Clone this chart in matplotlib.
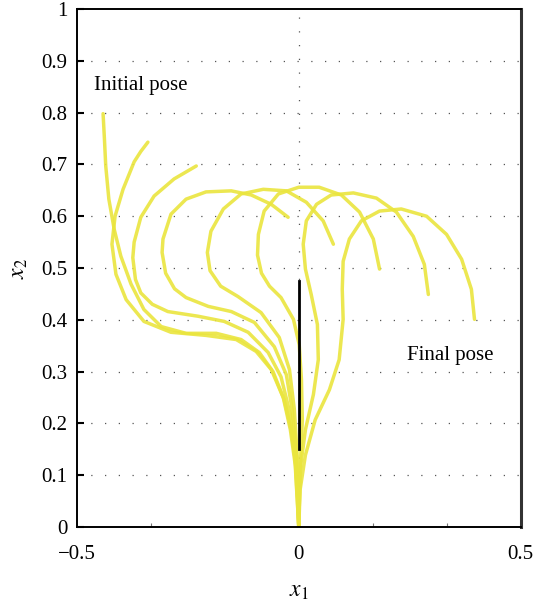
import numpy as np
import matplotlib
matplotlib.use('Agg')
from matplotlib import pyplot as plt

"""
    Poses do robo (do inicial ao final), da ponta ate a base
"""

pose1_x = [-0.441, -0.438, -0.435, -0.428, -0.416, -0.401, -0.378, -0.349, -0.310, -0.254, -0.186,
           -0.130, -0.089, -0.058, -0.033, -0.017, -0.008, -0.003, 0.0]
pose1_y = [0.798, 0.750, 0.697, 0.633, 0.575, 0.523, 0.469, 0.420, 0.387, 0.374, 0.374,
           0.362, 0.337, 0.300, 0.246, 0.188, 0.130, 0.072, 0.0]

pose2_x = [-0.340, -0.356, -0.371, -0.396, -0.414, -0.421, -0.412, -0.389, -0.349, -0.288, -0.209,
           -0.141, -0.096, -0.062, -0.035, -0.019, -0.008, 0.0]
pose2_y = [0.743, 0.725, 0.705, 0.652, 0.600, 0.546, 0.488, 0.439, 0.397, 0.376, 0.370,
           0.362, 0.339, 0.304, 0.250, 0.188, 0.120, 0.0]

pose3_x = [-0.231, -0.281, -0.326, -0.356, -0.371, -0.374, -0.368, -0.356, -0.330, -0.295, -0.227,
           -0.168, -0.114, -0.069, -0.040, -0.019, -0.008, 0.0]
pose3_y = [0.697, 0.672, 0.639, 0.598, 0.550, 0.520, 0.478, 0.452, 0.430, 0.416, 0.407,
           0.397, 0.376, 0.337, 0.290, 0.217, 0.130, 0.0]

pose4_x = [-0.024, -0.062, -0.107, -0.152, -0.209, -0.254, -0.288, -0.306, -0.308, -0.300, -0.280,
           -0.254, -0.204, -0.152, -0.100, -0.055, -0.028, -0.015, -0.006, 0.0]
pose4_y = [0.598, 0.623, 0.641, 0.649, 0.647, 0.633, 0.604, 0.556, 0.530, 0.490, 0.460,
           0.443, 0.426, 0.416, 0.395, 0.348, 0.294, 0.227, 0.149, 0.0]

pose5_x = [0.078, 0.055, 0.017, -0.028, -0.080, -0.130, -0.170, -0.198, -0.206, -0.200, -0.176,
           -0.137, -0.085, -0.044, -0.021, -0.010, -0.003, 0.0]
pose5_y = [0.546, 0.591, 0.627, 0.649, 0.652, 0.643, 0.614, 0.571, 0.530, 0.495, 0.465,
           0.445, 0.414, 0.366, 0.304, 0.227, 0.130, 0.0]

pose6_x = [0.182, 0.168, 0.137, 0.096, 0.046, 0.0, -0.046, -0.078, -0.091, -0.093, -0.084,
           -0.066, -0.040, -0.012, 0.001, 0.006, 0.008, 0.003, 0.0]
pose6_y = [0.498, 0.556, 0.608, 0.641, 0.656, 0.656, 0.643, 0.610, 0.565, 0.525, 0.490,
           0.465, 0.443, 0.401, 0.352, 0.285, 0.207, 0.110, 0.0]

pose7_x = [0.292, 0.283, 0.258, 0.220, 0.175, 0.123, 0.073, 0.040, 0.017, 0.010,
           0.015, 0.028, 0.042, 0.044, 0.033, 0.015, 0.003, 0.0]
pose7_y = [0.449, 0.507, 0.561, 0.608, 0.635, 0.645, 0.641, 0.623, 0.591, 0.546,
           0.498, 0.449, 0.391, 0.323, 0.256, 0.188, 0.110, 0.0]

pose8_x = [0.396, 0.389, 0.367, 0.333, 0.288, 0.231, 0.182, 0.141, 0.114, 0.100,
           0.098, 0.100, 0.091, 0.069, 0.037, 0.015, 0.003, 0.0]
pose8_y = [0.401, 0.459, 0.517, 0.565, 0.600, 0.614, 0.610, 0.591, 0.556, 0.513,
           0.459, 0.401, 0.323, 0.265, 0.207, 0.139, 0.072, 0.0]

# pose de referencia (segmento reto)
ref_x = [0.0, 0.0]
ref_y = [0.15, 0.475]

poses = [(pose1_x, pose1_y), (pose2_x, pose2_y), (pose3_x, pose3_y), (pose4_x, pose4_y),
         (pose5_x, pose5_y), (pose6_x, pose6_y), (pose7_x, pose7_y), (pose8_x, pose8_y)]


def main():
    plt.rcParams['font.family'] = ['Liberation Serif', 'DejaVu Serif']
    plt.rcParams['mathtext.fontset'] = 'stix'

    fig = plt.figure(figsize=(5.34, 6.01), dpi=100)
    ax = fig.add_axes([0.144, 0.123, 0.831, 0.862])

    for y in np.arange(0.1, 0.95, 0.1):
        ax.axhline(y, color='#555555', linestyle=(0, (1, 10)), linewidth=0.9, zorder=0)
    ax.axvline(0, color='#555555', linestyle=(0, (1, 10)), linewidth=0.9, zorder=0)

    for px, py in poses:
        ax.plot(px, py, color='#EAE53E', linewidth=2.5, alpha=0.9,
                solid_capstyle='round', solid_joinstyle='round')

    ax.plot(ref_x, ref_y, color='black', linewidth=2)

    ax.text(-0.462, 0.852, 'Initial pose', fontsize=15, va='center', ha='left')
    ax.text(0.245, 0.331, 'Final pose', fontsize=15, va='center', ha='left')

    ax.set_xlim(-0.5, 0.5)
    ax.set_ylim(0, 1)
    ax.set_xticks([-0.5, 0, 0.5])
    ax.set_xticklabels(['\u22120.5', '0', '0.5'])
    ax.set_xticks([-1/3, 1/6, 1/3], minor=True)
    ax.set_yticks(np.round(np.arange(0, 1.01, 0.1), 1))
    ax.set_yticklabels(['0', '0.1', '0.2', '0.3', '0.4', '0.5', '0.6', '0.7', '0.8', '0.9', '1'])

    ax.tick_params(axis='y', direction='in', length=5, width=1.5, labelsize=15, pad=7)
    ax.tick_params(axis='x', which='major', direction='in', length=0, labelsize=15, pad=13)
    ax.tick_params(axis='x', which='minor', direction='in', length=3, width=0.8, color='#777777')

    for s in ['left', 'bottom', 'top']:
        ax.spines[s].set_linewidth(1.4)
    ax.spines['right'].set_linewidth(2.2)
    ax.spines['right'].set_color('#333333')

    ax.set_xlabel('$x_1$', fontsize=17, labelpad=12)
    ax.set_ylabel('$x_2$', fontsize=17, labelpad=8)

    fig.savefig('out.png', dpi=100)


if __name__ == '__main__':
    main()
